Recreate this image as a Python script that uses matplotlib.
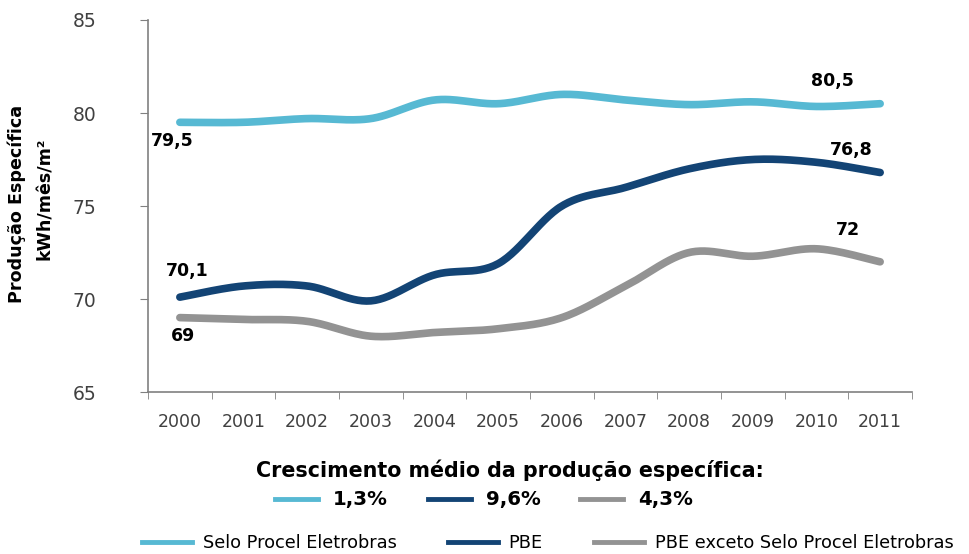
import numpy as np
import matplotlib.pyplot as plt
from matplotlib.lines import Line2D

anos = ["2000", "2001", "2002", "2003", "2004", "2005",
        "2006", "2007", "2008", "2009", "2010", "2011"]
selo_procel = [79.5, 79.5, 79.7, 79.7, 80.7, 80.5, 81.0, 80.7, 80.45, 80.6, 80.35, 80.5]
pbe = [70.1, 70.7, 70.7, 69.9, 71.3, 71.9, 75.0, 76.0, 77.0, 77.5, 77.35, 76.8]
pbe_exceto = [69.0, 68.9, 68.8, 68.0, 68.2, 68.4, 69.0, 70.7, 72.5, 72.3, 72.7, 72.0]

series_names = ["Selo Procel Eletrobras", "PBE", "PBE exceto Selo Procel Eletrobras"]
crescimento = ["1,3%", "9,6%", "4,3%"]
cores = ["#57B9D3", "#134475", "#939393"]


def suavizar(x, y, n=30):
    # curva tipo Excel: Bezier cubica com tangentes de Catmull-Rom
    x = np.asarray(x, float)
    y = np.asarray(y, float)
    px = np.concatenate([[x[0]], x, [x[-1]]])
    py = np.concatenate([[y[0]], y, [y[-1]]])
    t = np.linspace(0, 1, n)
    xs, ys = [], []
    for i in range(len(x) - 1):
        p0 = np.array([px[i + 1], py[i + 1]])
        p3 = np.array([px[i + 2], py[i + 2]])
        c1 = p0 + (p3 - np.array([px[i], py[i]])) / 6
        c2 = p3 - (np.array([px[i + 3], py[i + 3]]) - p0) / 6
        b = ((1 - t) ** 3)[:, None] * p0 + (3 * (1 - t) ** 2 * t)[:, None] * c1 \
            + (3 * (1 - t) * t ** 2)[:, None] * c2 + (t ** 3)[:, None] * p3
        xs.append(b[:, 0])
        ys.append(b[:, 1])
    return np.concatenate(xs), np.concatenate(ys)


def fmt(v):
    return f"{v:.1f}".replace(".", ",").replace(",0", "")


fig = plt.figure(figsize=(9.7, 5.54), dpi=100)
ax = fig.add_axes([0.1526, 0.2924, 0.7876, 0.6715])

x = np.arange(len(anos))
for vals, cor in zip([selo_procel, pbe, pbe_exceto], cores):
    sx, sy = suavizar(x, vals)
    ax.plot(sx, sy, color=cor, lw=5.5, solid_capstyle="round")

ax.set_xlim(-0.5, len(anos) - 0.5)
ax.set_ylim(65, 85)
ax.set_yticks([65, 70, 75, 80, 85])
ax.set_xticks(x)
ax.set_xticklabels(anos)
ax.set_xticks(np.arange(-0.5, len(anos)), minor=True)
ax.tick_params(axis="x", which="major", length=0, pad=15, labelsize=12.5, labelcolor="#404040")
ax.tick_params(axis="x", which="minor", length=5, color="#808080", direction="out")
ax.tick_params(axis="y", length=6, color="#808080", labelsize=13.5, labelcolor="#404040", pad=31)
for s in ["top", "right"]:
    ax.spines[s].set_visible(False)
for s in ["left", "bottom"]:
    ax.spines[s].set_color("#808080")
    ax.spines[s].set_linewidth(1.2)

# titulo do eixo y em duas linhas
fig.text(17 / 970, 0.632, "Produção Específica", rotation=90, ha="center", va="center",
         fontsize=12.6, fontweight="bold")
fig.text(45 / 970, 0.642, "kWh/mês/m²", rotation=90, ha="center", va="center",
         fontsize=12.6, fontweight="bold")

# rotulos de valor no inicio e no fim das series
rot = dict(fontsize=12.5, fontweight="bold", color="black", ha="center")
ax.text(x[0] - 0.12, selo_procel[0] - 0.5, fmt(selo_procel[0]), va="top", **rot)
ax.text(x[0] + 0.12, pbe[0] + 0.9, fmt(pbe[0]), va="bottom", **rot)
ax.text(x[0] + 0.05, pbe_exceto[0] - 0.5, fmt(pbe_exceto[0]), va="top", **rot)
ax.text(x[-1] - 0.75, selo_procel[-1] + 0.75, fmt(selo_procel[-1]), va="bottom", **rot)
ax.text(x[-1] - 0.45, pbe[-1] + 0.75, fmt(pbe[-1]), va="bottom", **rot)
ax.text(x[-1] - 0.5, pbe_exceto[-1] + 1.2, fmt(pbe_exceto[-1]), va="bottom", **rot)

fig.text(0.526, 0.152, "Crescimento médio da produção específica:",
         ha="center", va="center", fontsize=14.9, fontweight="bold")

handles = [Line2D([], [], color=c, lw=3.5) for c in cores]
fig.legend(handles, crescimento, loc="center", bbox_to_anchor=(484 / 970, 1 - 500 / 554), ncol=3,
           frameon=False, handlelength=2.2, columnspacing=2.0, handletextpad=0.75,
           prop=dict(size=14.2, weight="bold"))

fig.legend(handles, series_names, loc="center", bbox_to_anchor=(548 / 970, 1 - 543 / 554), ncol=3,
           frameon=False, handlelength=2.8, columnspacing=2.9, handletextpad=0.6,
           prop=dict(size=12.8))

fig.savefig("out.png", dpi=100)
